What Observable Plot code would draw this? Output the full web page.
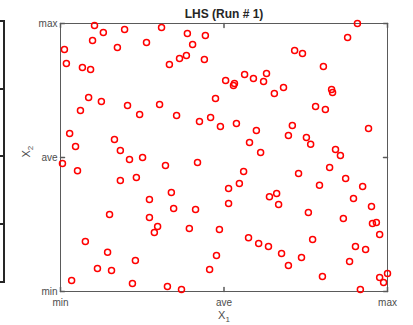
<!DOCTYPE html>
<html>
<head>
<meta charset="utf-8">
<script src="https://cdn.jsdelivr.net/npm/d3@7"></script>
<script src="https://cdn.jsdelivr.net/npm/@observablehq/plot@0.6"></script>
<style>
  body { margin: 0; background: #fff; }
  #wrap { position: relative; width: 413px; height: 325px; overflow: hidden; font-family: "Liberation Sans", Arial, sans-serif; }
  #chart { position: absolute; left: 0; top: 0; }
  .nb { position: absolute; background: #262626; }
</style>
</head>
<body>
<div id="wrap">
  <!-- cropped edge of the neighbouring subplot -->
  <div class="nb" style="left:3px;top:20px;width:2px;height:263px"></div>
  <div class="nb" style="left:0;top:20px;width:5px;height:2px"></div>
  <div class="nb" style="left:0;top:281px;width:5px;height:2px"></div>
  <div class="nb" style="left:0;top:88px;width:4px;height:2px"></div>
  <div class="nb" style="left:0;top:155px;width:4px;height:2px"></div>
  <div class="nb" style="left:0;top:223px;width:4px;height:2px"></div>
  <div id="chart"></div>
</div>
<script>
// Normalised sample positions (0 = min, 50 = ave, 100 = max)
const x1 = [10.4,13.1,19.6,9.8,17.4,1.2,1.8,6.7,9.2,8.6,12.5,20.5,6.1,30.9,38.8,44.3,26.3,40.4,38.5,36.4,
  33.3,44.0,50.5,53.2,52.9,56.3,59.0,63.0,62.1,47.4,30.3,90.8,87.8,71.6,74.0,80.4,68.2,65.4,82.9,83.2,
  78.0,81.0,24.2,2.8,4.6,16.5,18.3,21.1,0.6,5.2,18.3,23.2,35.5,42.5,45.9,48.9,53.8,59.9,57.8,61.2,
  25.1,32.1,41.9,33.9,27.2,56.0,54.7,51.4,51.4,63.9,34.6,41.3,70.9,69.7,75.2,76.5,94.2,84.1,85.6,82.3,
  72.8,79.2,87.2,92.4,66.1,89.6,66.7,95.1,75.8,15.0,7.6,14.4,22.9,11.3,15.6,3.4,22.0,27.2,29.7,28.7,
  39.4,48.6,57.5,60.6,63.6,47.7,45.6,32.7,37.0,86.5,95.4,96.6,97.6,77.1,67.6,73.7,69.7,90.2,93.3,88.4,
  80.1,100.0,97.6,98.8,91.7];
const x2 = [99.3,96.6,97.8,93.7,91.0,90.3,85.1,83.6,82.8,72.4,70.9,69.4,67.5,98.5,96.3,95.5,92.9,92.2,88.1,86.9,
  84.7,86.6,78.7,77.6,76.9,81.0,79.5,81.3,78.4,72.0,69.8,100.0,94.8,89.9,88.8,84.0,76.1,73.9,75.4,74.3,
  69.0,67.9,66.0,59.0,54.1,56.7,52.6,49.3,47.8,45.1,41.4,42.5,65.7,63.4,64.9,61.6,62.7,60.1,55.6,51.9,
  50.0,47.0,48.1,36.9,34.3,44.8,40.3,38.4,32.8,35.4,31.0,30.6,61.9,58.2,57.5,54.9,60.8,53.0,50.7,46.3,
  44.0,39.6,42.2,39.2,36.6,34.7,32.5,31.7,29.5,28.7,18.7,14.6,11.6,8.6,7.8,4.1,3.0,27.6,24.3,22.0,
  23.5,23.1,20.1,17.9,16.8,13.4,8.2,1.9,0.7,27.2,25.4,25.7,21.3,19.4,14.2,12.7,9.7,16.8,15.7,11.2,
  5.6,6.7,5.2,3.4,0.7];
const tickValues = [0, 50, 100];
const tickLabels = ["min", "ave", "max"];
const title = "LHS (Run # 1)";
const xLabel = {base: "X", sub: "1"};
const yLabel = {base: "X", sub: "2"};

const points = x1.map((x, i) => ({x, y: x2[i]}));
const fmt = d => tickLabels[tickValues.indexOf(d)];
const axisColor = "#5a5a5a";
const tickShape = {draw(ctx, l) { ctx.moveTo(0, 0); ctx.lineTo(0, -l); }};

const chart = Plot.plot({
  width: 413,
  height: 325,
  marginLeft: 60,
  marginRight: 26,
  marginTop: 23,
  marginBottom: 34,
  style: {fontFamily: '"Liberation Sans", Arial, sans-serif', fontSize: "10px", background: "transparent", color: "#4d4d4d"},
  x: {domain: [0, 100], label: null},
  y: {domain: [0, 100], label: null},
  marks: [
    Plot.axisX(tickValues, {tickSize: 0, tickPadding: 7, tickFormat: fmt, fill: "#4d4d4d"}),
    Plot.axisY(tickValues, {tickSize: 0, tickPadding: 3, tickFormat: fmt, fill: "#4d4d4d"}),
    Plot.vector(tickValues, {x: d => d, y: 0, length: 4, rotate: 0, anchor: "start", shape: tickShape, stroke: axisColor}),
    Plot.vector(tickValues, {x: d => d, y: 100, length: 4, rotate: 180, anchor: "start", shape: tickShape, stroke: axisColor}),
    Plot.vector(tickValues, {x: 0, y: d => d, length: 4, rotate: 90, anchor: "start", shape: tickShape, stroke: axisColor}),
    Plot.vector(tickValues, {x: 100, y: d => d, length: 4, rotate: 270, anchor: "start", shape: tickShape, stroke: axisColor}),
    Plot.frame({stroke: axisColor}),
    Plot.dot(points, {x: "x", y: "y", r: 3, stroke: "#ff0000", strokeWidth: 1.5, fill: "none"}),
    Plot.text([title], {frameAnchor: "top", lineAnchor: "bottom", dy: -6, fontWeight: "bold", fontSize: 12, fill: "#262626"}),
    Plot.text([xLabel], {text: d => d.base, frameAnchor: "bottom", lineAnchor: "bottom", dy: 27, fontSize: 11, fill: "#4d4d4d", className: "sublabel-x"}),
    Plot.text([yLabel], {text: d => d.base, frameAnchor: "left", lineAnchor: "bottom", rotate: -90, dx: -31, fontSize: 11, fill: "#4d4d4d", className: "sublabel-y"})
  ]
});
// add subscripts as real text
[[".sublabel-x", xLabel], [".sublabel-y", yLabel]].forEach(([sel, lab]) => {
  d3.select(chart).selectAll(sel + " text").each(function() {
    d3.select(this).append("tspan").attr("dy", "0.4em").attr("font-size", "8px").text(lab.sub);
  });
});
document.getElementById("chart").appendChild(chart);
</script>
</body>
</html>
